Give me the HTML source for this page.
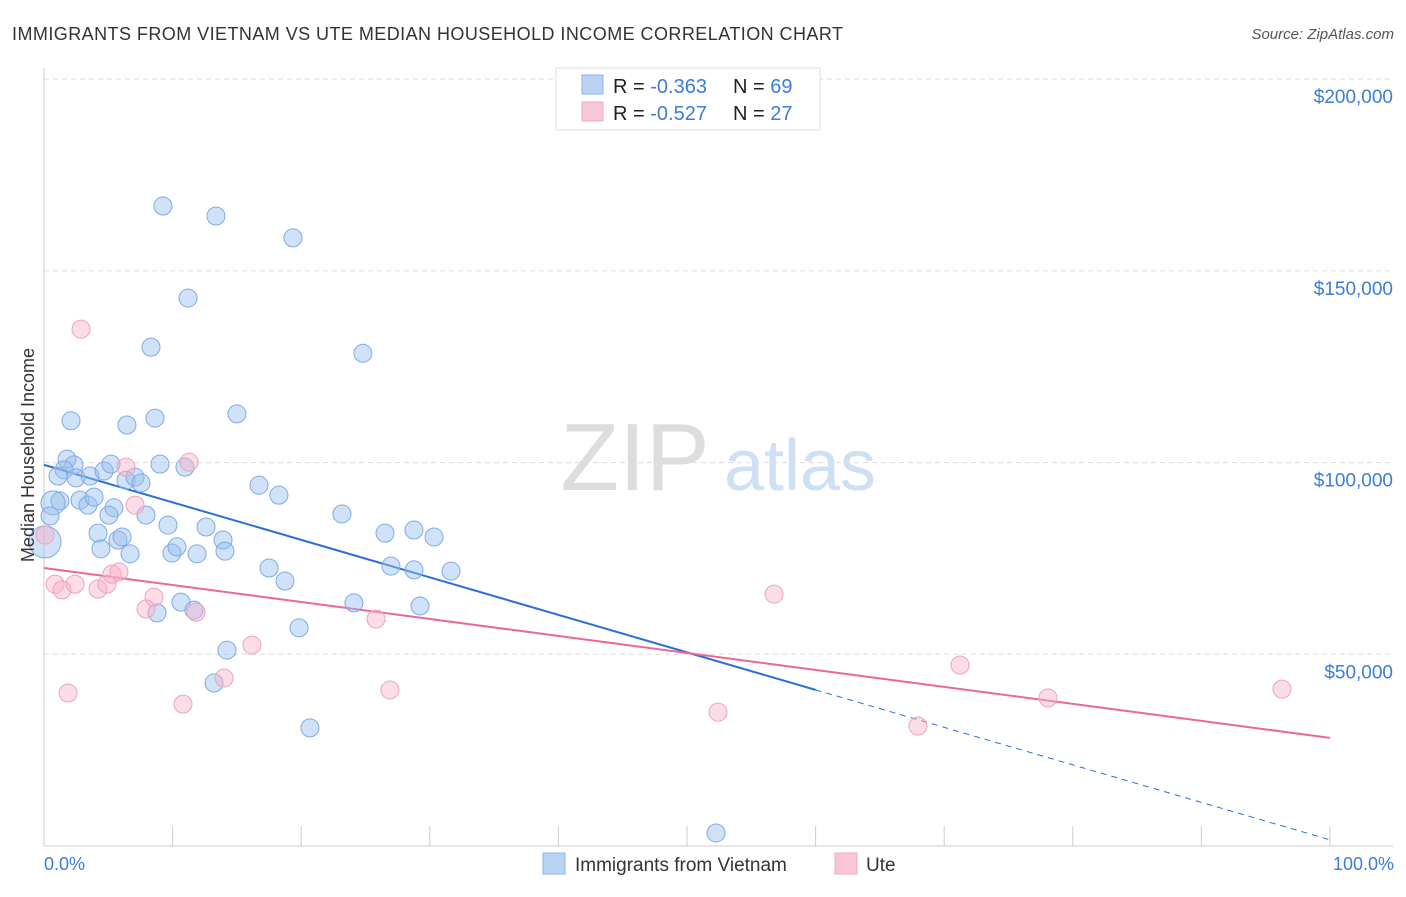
<!DOCTYPE html>
<html><head><meta charset="utf-8"><style>
body{margin:0;background:#fff;font-family:"Liberation Sans",sans-serif}
svg text{font-family:"Liberation Sans",sans-serif}
</style></head><body>
<svg id="c" width="1406" height="892" xmlns="http://www.w3.org/2000/svg">
<text x="12" y="40" font-size="18" fill="#333" textLength="831">IMMIGRANTS FROM VIETNAM VS UTE MEDIAN HOUSEHOLD INCOME CORRELATION CHART</text>
<text x="1394" y="39" font-size="15" fill="#555" font-style="italic" text-anchor="end">Source: ZipAtlas.com</text>
<g><text x="635" y="490" font-size="96" fill="#ddd" font-family="Liberation Serif" text-anchor="middle">ZIP</text><text x="800" y="490" font-size="72" fill="#cfe0f5" text-anchor="middle">atlas</text></g>
<g id="grid"></g><g id="axes"></g><g id="lines"></g><g id="pts"></g>
<text transform="translate(34,455) rotate(-90)" font-size="18" fill="#333" text-anchor="middle">Median Household Income</text>
<text x="44" y="870" font-size="18" fill="#3b7dd8">0.0%</text>
<text x="1394" y="870" font-size="18" fill="#3b7dd8" text-anchor="end">100.0%</text>
<g>
<rect x="556" y="68" width="264" height="62" fill="#fff" stroke="#ddd"/>
<rect x="582" y="75" width="21" height="19" fill="#b9d3f5" stroke="#8ab4e8"/>
<rect x="582" y="102" width="21" height="19" fill="#f9c6d6" stroke="#f0a8c0"/>
<text x="613" y="93" font-size="20" fill="#222">R = <tspan fill="#3b7dd8">-0.363</tspan></text>
<text x="733" y="93" font-size="20" fill="#222">N = <tspan fill="#3b7dd8">69</tspan></text>
<text x="613" y="120" font-size="20" fill="#222">R = <tspan fill="#3b7dd8">-0.527</tspan></text>
<text x="733" y="120" font-size="20" fill="#222">N = <tspan fill="#3b7dd8">27</tspan></text>
</g>
<g>
<rect x="543" y="853" width="22" height="21" fill="#b9d3f5" stroke="#8ab4e8"/>
<text x="575" y="871" font-size="19" fill="#333">Immigrants from Vietnam</text>
<rect x="835" y="853" width="22" height="21" fill="#f9c6d6" stroke="#f0a8c0"/>
<text x="866" y="871" font-size="19" fill="#333">Ute</text>
</g>
</svg>
<script>
const yTicks=[50000,100000,150000,200000];
const yTickLabels=["$50,000","$100,000","$150,000","$200,000"];
const blueX=[9.25,13.37,19.36,11.2,8.32,24.8,2.1,6.45,8.63,15.0,1.79,2.33,1.56,1.09,2.49,3.58,4.67,5.21,9.02,10.96,6.38,7.08,7.54,1.24,0.7,2.8,3.42,3.89,5.44,5.05,7.93,0.47,0.08,4.2,5.75,6.07,9.64,12.6,13.92,16.72,18.27,23.17,26.52,28.77,30.33,4.43,6.69,9.95,10.34,11.9,14.07,17.5,18.74,26.98,28.77,31.65,10.65,11.66,8.79,24.1,29.24,19.83,14.23,13.22,20.68,52.26];
const blueY=[166900,164300,158600,142900,130100,128500,110900,109800,111600,112700,100900,99400,98100,96500,96000,96500,97800,99600,99600,98800,95400,96200,94700,90000,89500,90200,88900,91000,88200,86300,86300,86100,79300,81600,79800,80600,83700,83200,79800,94100,91500,86600,81600,82400,80600,77500,76200,76400,78000,76200,76900,72500,69100,73000,72000,71700,63600,61500,60800,63400,62600,56900,51100,42500,30800,3400];
const blueR=[9,9,9,9,9,9,9,9,9,9,9,9,9,9,9,9,9,9,9,9,9,9,9,9,12,9,9,9,9,9,9,9,16,9,9,9,9,9,9,9,9,9,9,9,9,9,9,9,9,9,9,9,9,9,9,9,9,9,9,9,9,9,9,9,9,9];
const pinkX=[2.88,0.86,1.4,2.41,4.2,4.9,5.29,5.83,6.38,7.08,11.28,8.55,7.93,11.82,16.17,25.82,14.0,1.87,10.81,26.9,52.41,56.77,67.96,71.23,78.07,96.27,0.08];
const pinkY=[134800,68300,66800,68300,67000,68300,70900,71500,98800,88900,100100,64900,61800,61000,52400,59200,43800,39900,37000,40700,34900,65700,31300,47200,38600,40900,81100];
const blueTrend=[99400,-978];
const pinkTrend=[72500,-443];
const xs=v=>44+v*12.86, ys=v=>846-v/260.8;
const NS="http://www.w3.org/2000/svg";
function mk(t,a,p){const e=document.createElementNS(NS,t);for(const k in a)e.setAttribute(k,a[k]);document.getElementById(p).appendChild(e);return e;}
yTicks.forEach((t,i)=>{
 const l=mk('line',{x1:44,x2:1393,y1:ys(t),y2:ys(t),stroke:'#ddd','stroke-dasharray':'5,4'},'grid');
 
 
 const tx=mk('text',{x:1393,y:ys(t)+24,'font-size':19,fill:'#3b7dd8','text-anchor':'end'},'grid');
 tx.textContent=yTickLabels[i];
 
 
});
const ax=mk('line',{x1:44,x2:44,y1:68,y2:846,stroke:'#ccc'},'axes');


const bx=mk('line',{x1:44,x2:1393,y1:846,y2:846,stroke:'#ccc'},'axes');


for(let i=1;i<=10;i++){const t=mk('line',{x1:xs(i*10),x2:xs(i*10),y1:826,y2:846,stroke:'#ccc'},'axes');
 
 }
function tr(c,x){return c[0]+c[1]*x;}
let l1=mk('line',{x1:xs(0),y1:ys(tr(blueTrend,0)),x2:xs(60),y2:ys(tr(blueTrend,60)),stroke:'#2a6fd6','stroke-width':2},'lines');


let l2=mk('line',{x1:xs(60),y1:ys(tr(blueTrend,60)),x2:xs(100),y2:ys(tr(blueTrend,100)),stroke:'#2a6fd6','stroke-width':1,'stroke-dasharray':'6,5'},'lines');


let l3=mk('line',{x1:xs(0),y1:ys(tr(pinkTrend,0)),x2:xs(100),y2:ys(tr(pinkTrend,100)),stroke:'#e8689a','stroke-width':2},'lines');


blueX.forEach((x,i)=>{const c=mk('circle',{cx:xs(x),cy:ys(blueY[i]),r:blueR[i],fill:'rgba(150,190,238,0.45)',stroke:'#7faae6','stroke-width':1},'pts');
 
 });
pinkX.forEach((x,i)=>{const c=mk('circle',{cx:xs(x),cy:ys(pinkY[i]),r:9,fill:'rgba(246,178,202,0.45)',stroke:'#eea3bd','stroke-width':1},'pts');
 
 });
</script>
</body></html>
